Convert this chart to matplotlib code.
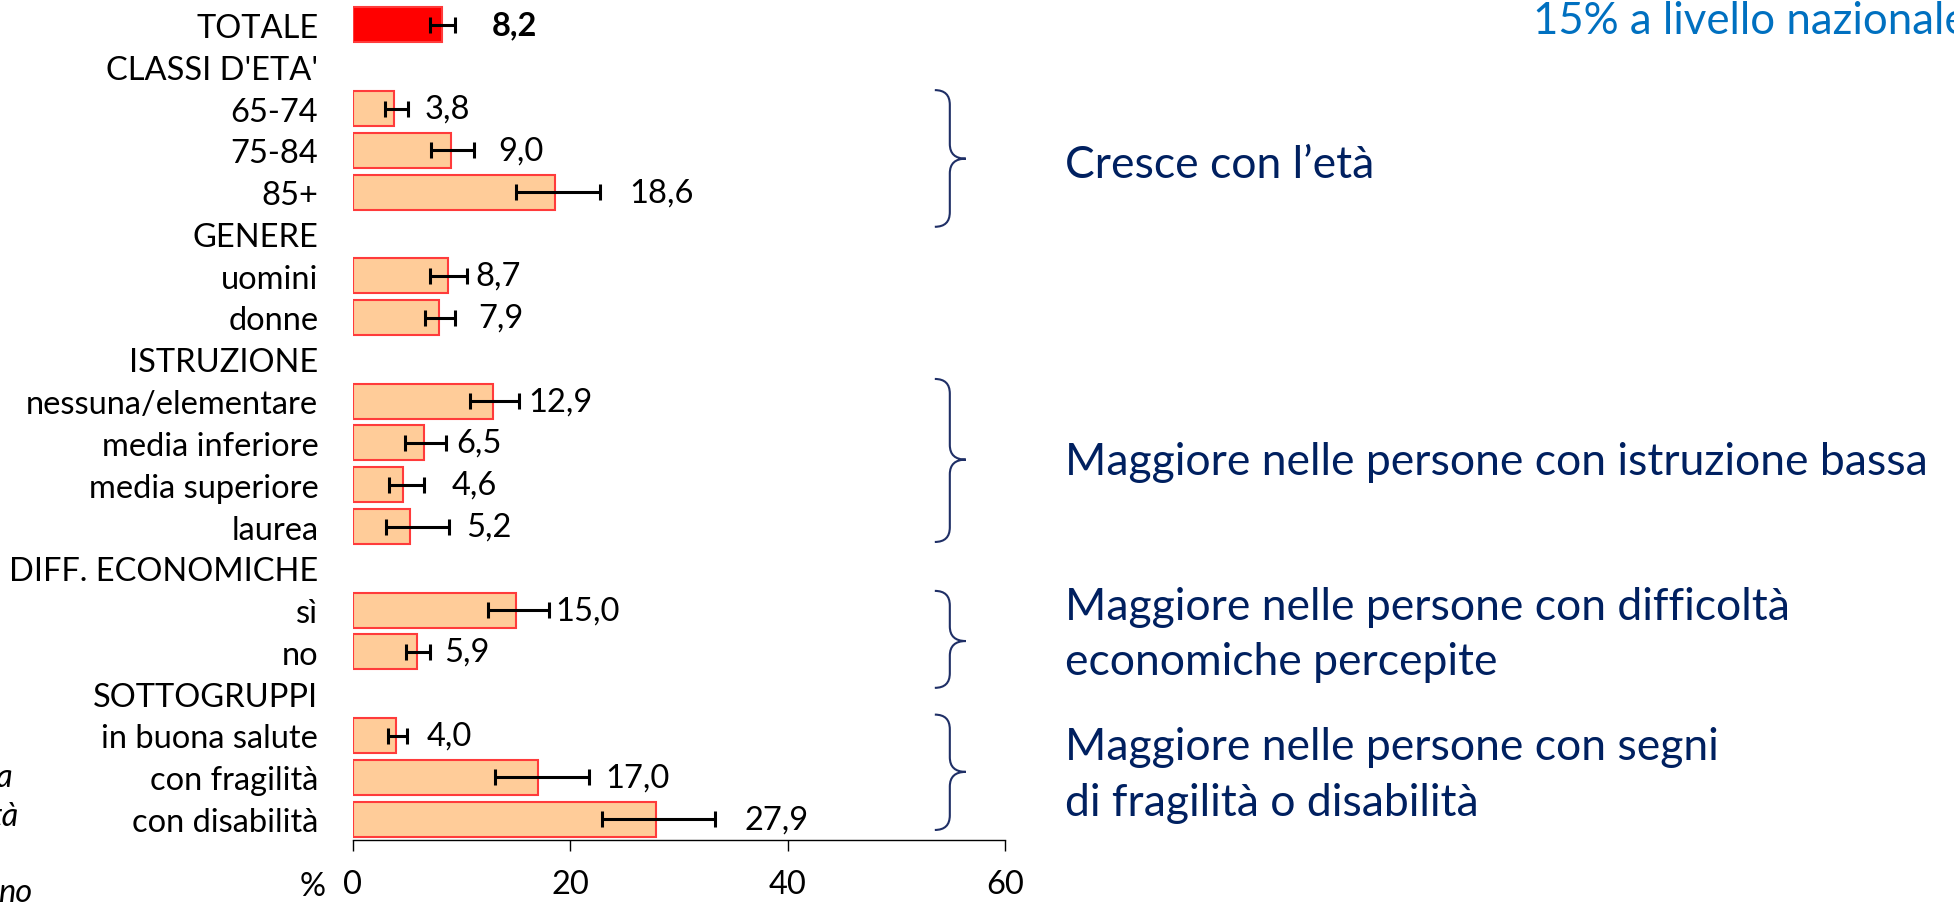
import numpy as np
import matplotlib
matplotlib.use("Agg")
import matplotlib.pyplot as plt
from matplotlib.path import Path
from matplotlib.patches import PathPatch

plt.rcParams['font.family'] = ['Lato', 'DejaVu Sans']

# dati
categorie = ["TOTALE", "CLASSI D'ETA'", "65-74", "75-84", "85+", "GENERE",
             "uomini", "donne", "ISTRUZIONE", "nessuna/elementare",
             "media inferiore", "media superiore", "laurea",
             "DIFF. ECONOMICHE", "sì", "no", "SOTTOGRUPPI",
             "in buona salute", "con fragilità", "con disabilità"]
valori = [8.2, np.nan, 3.8, 9.0, 18.6, np.nan, 8.7, 7.9, np.nan, 12.9,
          6.5, 4.6, 5.2, np.nan, 15.0, 5.9, np.nan, 4.0, 17.0, 27.9]
ic_inf = [7.1, np.nan, 2.9, 7.2, 15.0, np.nan, 7.1, 6.6, np.nan, 10.8,
          4.8, 3.3, 3.0, np.nan, 12.4, 4.9, np.nan, 3.2, 13.1, 22.9]
ic_sup = [9.4, np.nan, 5.1, 11.1, 22.7, np.nan, 10.5, 9.4, np.nan, 15.3,
          8.6, 6.5, 8.8, np.nan, 18.0, 7.1, np.nan, 5.0, 21.7, 33.3]
xticks = [0, 20, 40, 60]

# posizione delle etichette dei valori (come nel grafico originale)
pos_etichette = [12.8, None, 6.6, 13.4, 25.4, None, 11.3, 11.5, None, 16.1,
                 9.5, 9.1, 10.4, None, 18.6, 8.4, None, 6.8, 23.2, 36.0]

commenti = [
    (["Cresce con l\u2019età"], 1.56, 4.83, 3.2, [3.35]),
    (["Maggiore nelle persone con istruzione bassa"], 8.47, 12.37, 10.4, [10.45]),
    (["Maggiore nelle persone con difficoltà", "economiche percepite"],
     13.54, 15.86, 14.74, [13.92, 15.24]),
    (["Maggiore nelle persone con segni", "di fragilità o disabilità"],
     16.5, 19.26, 17.87, [17.27, 18.61]),
]

W, H = 1954, 903
fs = 23.5
fig = plt.figure(figsize=(W / 100, H / 100), dpi=100)
ax = fig.add_axes([353 / W, 62 / H, 652 / W, 836 / H])

y = np.arange(len(categorie))
v = np.array(valori)
ok = ~np.isnan(v)
colori = ['#FF0000' if c == "TOTALE" else '#FFCC99' for c in categorie]
colori = [c for c, k in zip(colori, ok) if k]

ax.barh(y[ok], v[ok], height=0.84, color=colori, edgecolor='#FF3B3B',
        linewidth=1.5, zorder=2)
lo = v[ok] - np.array(ic_inf)[ok]
hi = np.array(ic_sup)[ok] - v[ok]
ax.errorbar(v[ok], y[ok], xerr=[lo, hi], fmt='none', ecolor='black',
            elinewidth=2.2, capsize=6, capthick=2.2, zorder=3)

for i in range(len(categorie)):
    if np.isnan(valori[i]):
        continue
    testo = f"{valori[i]:.1f}".replace('.', ',')
    ax.text(pos_etichette[i], y[i], testo, va='center', ha='left', fontsize=fs,
            fontweight='bold' if categorie[i] == "TOTALE" else 'normal')

ax.set_ylim(19.5, -0.5)
ax.set_xlim(0, 60)
ax.set_yticks(y)
ax.set_yticklabels(categorie, fontsize=fs)
ax.tick_params(axis='y', length=0, pad=25)
ax.set_xticks(xticks)
ax.tick_params(axis='x', direction='out', length=8, width=1, labelsize=fs, pad=13)
for s in ['left', 'top', 'right']:
    ax.spines[s].set_visible(False)
ax.spines['bottom'].set_linewidth(1)

fig.text(326 / W, 1 - 887 / H, "%", ha='right', va='center', fontsize=fs)

# parentesi graffe e commenti
x0, x1, x2, r = (935 - 353) / 10.87, (950 - 353) / 10.87, (966 - 353) / 10.87, 0.35
navy = '#1F2F66'
for righe, ytop, ybot, ytip, ys in commenti:
    verts = [(x0, ytop), (x1, ytop), (x1, ytop + r),
             (x1, ytip - r), (x1, ytip), (x2, ytip),
             (x1, ytip), (x1, ytip + r),
             (x1, ybot - r), (x1, ybot), (x0, ybot)]
    codes = [Path.MOVETO, Path.CURVE3, Path.CURVE3, Path.LINETO, Path.CURVE3,
             Path.CURVE3, Path.CURVE3, Path.CURVE3, Path.LINETO, Path.CURVE3,
             Path.CURVE3]
    ax.add_patch(PathPatch(Path(verts, codes), fill=False, edgecolor=navy,
                           linewidth=1.5, clip_on=False))
    for riga, yy in zip(righe, ys):
        ax.text(65.5, yy, riga, va='center', ha='left', fontsize=32,
                color='#002060')

fig.text(1533 / W, 1 - 22 / H, "15% a livello nazionale", ha='left',
         va='center', fontsize=31.5, color='#0070C0')

# testi tagliati a sinistra
fig.text(12 / W, 1 - 778 / H, "a", ha='right', va='center', fontsize=fs, style='italic')
fig.text(19 / W, 1 - 817 / H, "tà", ha='right', va='center', fontsize=fs, style='italic')
fig.text(32 / W, 1 - 893 / H, "no", ha='right', va='center', fontsize=fs, style='italic')

fig.savefig("out.png", dpi=100)
